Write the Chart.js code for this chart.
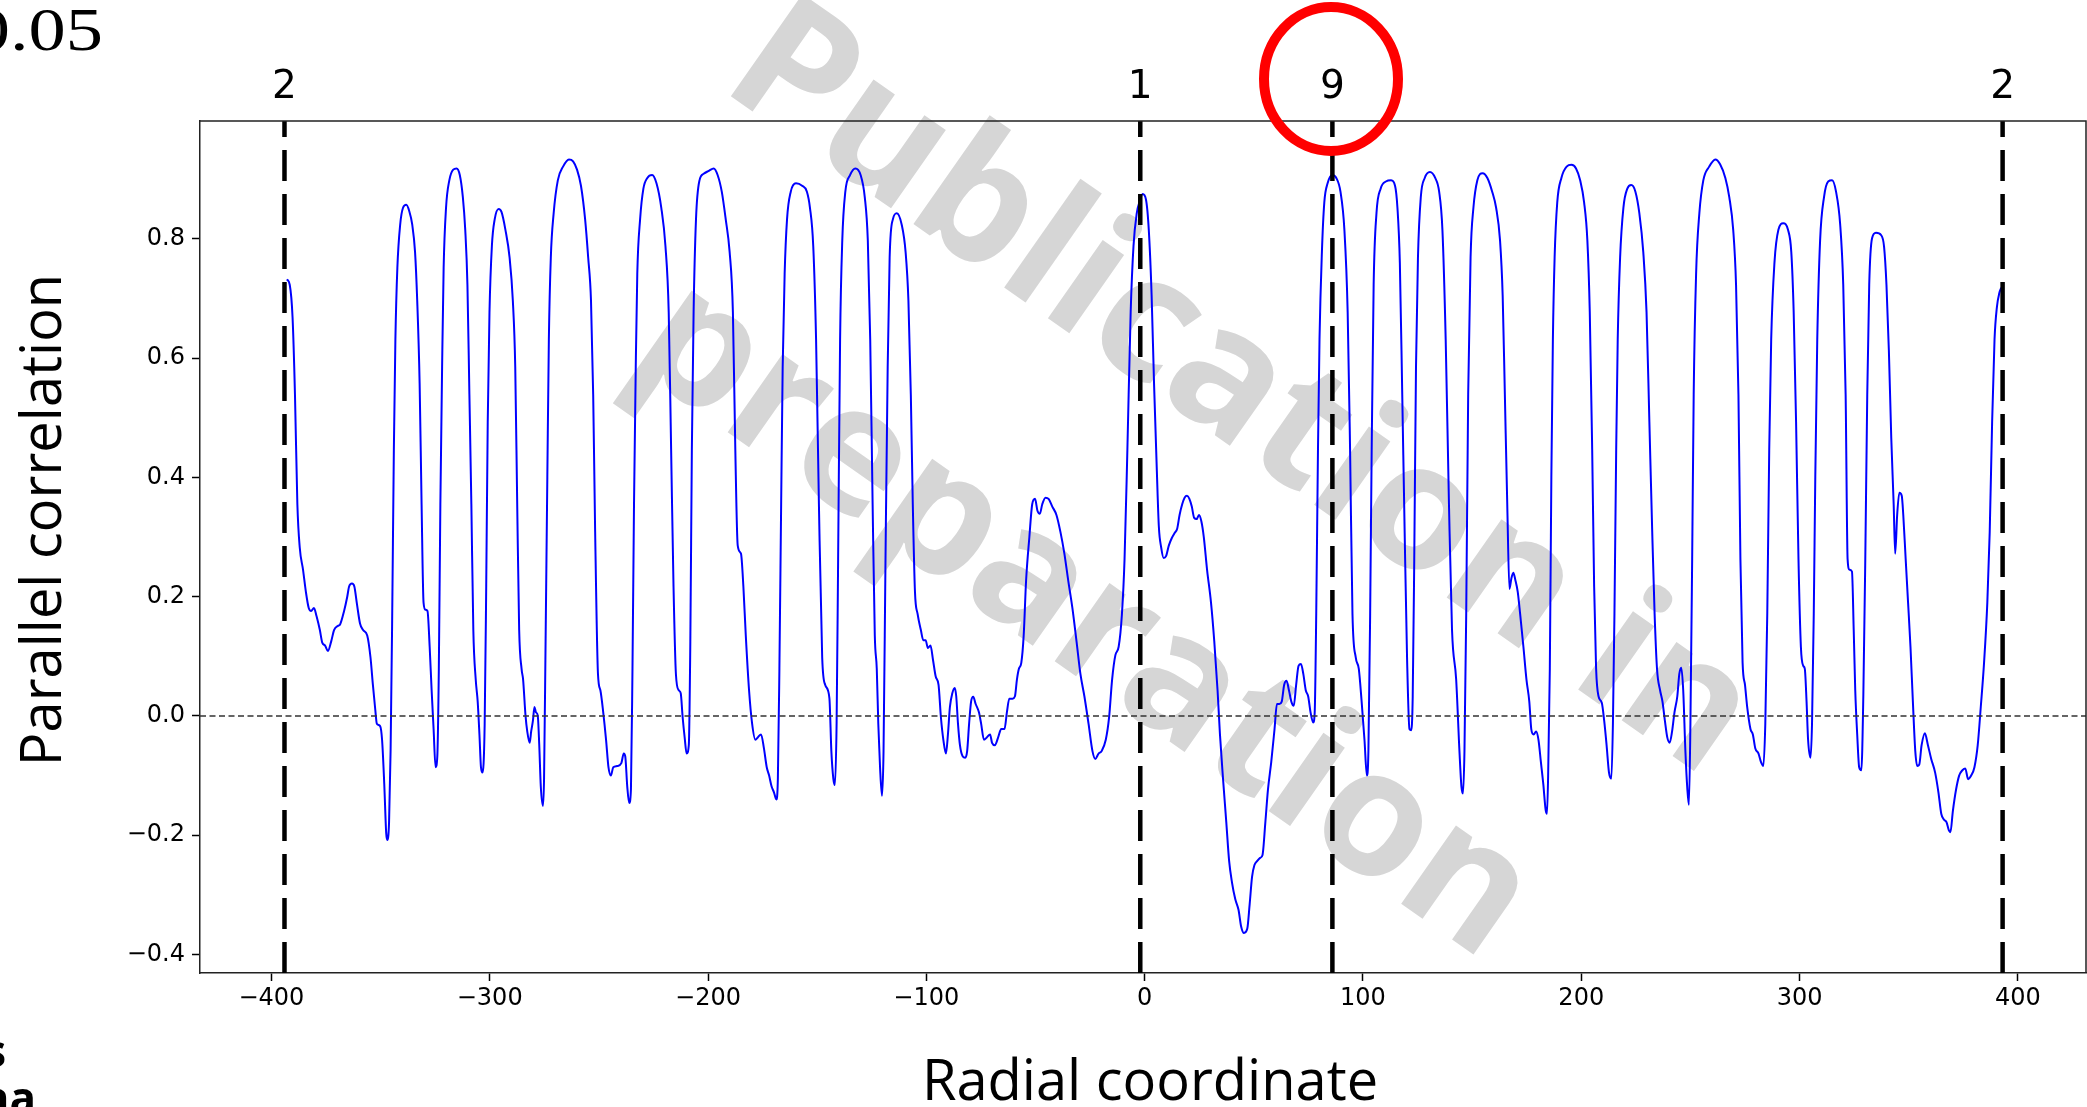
<!DOCTYPE html>
<html>
<head>
<meta charset="utf-8">
<title>Parallel correlation vs radial coordinate</title>
<script src="https://cdn.jsdelivr.net/npm/chart.js@4.4.1/dist/chart.umd.min.js"></script>
<style>
  html, body { margin: 0; padding: 0; background: #fff; overflow: hidden; }
  canvas { display: block; }
</style>
</head>
<body>
<canvas id="corrChart" width="2087" height="1107"></canvas>
<script>
// radial coordinate (x) and parallel correlation (y) along the profile
const radialCoord = [
  -392.9, -391.6, -390.3, -389.2, -388.1, -387.0, -385.5, -384.2, -382.9, -381.8,
  -380.5, -379.3, -377.8, -376.7, -375.4, -374.1, -372.6, -371.3, -369.5, -368.6,
  -366.7, -365.3, -364.4, -363.1, -362.0, -360.9, -359.4, -358.0, -356.1, -354.6,
  -353.5, -352.4, -351.7, -350.2, -349.3, -348.3, -347.4, -346.9, -346.1, -345.4,
  -344.7, -343.9, -343.2, -342.3, -341.0, -339.7, -338.2, -336.9, -335.5, -334.2,
  -333.2, -332.1, -331.2, -330.3, -329.4, -328.5, -327.5, -326.6, -325.7, -324.8,
  -324.0, -323.3, -322.6, -321.8, -321.1, -320.0, -318.5, -316.7, -315.2, -313.7,
  -312.3, -311.2, -310.2, -309.3, -308.4, -307.5, -306.4, -305.5, -304.7, -304.0,
  -303.3, -302.3, -301.6, -300.9, -300.1, -299.0, -297.7, -295.9, -294.6, -292.8,
  -290.9, -289.4, -288.3, -287.4, -286.5, -285.4, -284.7, -283.6, -282.8, -281.7,
  -281.0, -280.2, -279.5, -278.8, -278.0, -277.3, -276.6, -275.6, -275.1, -274.4,
  -273.6, -272.9, -272.0, -270.7, -268.8, -266.4, -263.7, -261.8, -260.0, -258.2,
  -256.3, -254.9, -253.6, -252.6, -251.7, -250.4, -249.3, -248.0, -246.7, -245.6,
  -244.5, -243.4, -241.6, -239.7, -238.6, -237.9, -237.0, -236.1, -235.3, -234.6,
  -233.9, -233.1, -232.4, -231.1, -229.6, -227.8, -225.6, -223.6, -221.4, -219.5,
  -218.0, -216.9, -215.8, -214.7, -213.4, -212.5, -211.6, -210.7, -209.8, -208.8,
  -208.1, -207.4, -206.6, -205.5, -203.9, -202.0, -199.6, -197.4, -195.6, -193.7,
  -191.9, -190.1, -188.6, -187.5, -186.4, -184.9, -183.8, -182.7, -181.2, -179.8,
  -178.3, -177.2, -175.7, -174.4, -173.1, -172.0, -170.9, -169.8, -168.7, -168.0,
  -167.3, -166.5, -165.8, -164.9, -163.8, -162.1, -159.7, -156.9, -154.7, -153.3,
  -151.8, -150.5, -149.2, -147.7, -146.3, -144.4, -143.5, -142.6, -141.9, -141.1,
  -140.4, -139.5, -138.5, -137.1, -134.9, -132.5, -130.1, -128.2, -126.8, -125.7,
  -124.6, -123.6, -122.7, -122.0, -121.2, -120.3, -119.6, -118.7, -117.7, -116.8,
  -115.3, -113.5, -111.3, -109.5, -108.2, -107.1, -106.2, -105.2, -104.0, -102.5,
  -101.4, -100.3, -99.3, -98.1, -96.9, -95.7, -94.4, -93.3, -92.2, -91.0,
  -90.1, -89.2, -88.1, -87.0, -86.3, -85.5, -84.6, -83.3, -82.2, -81.3,
  -80.4, -79.5, -78.5, -77.4, -75.9, -74.9, -73.6, -72.3, -70.8, -69.9,
  -68.6, -67.1, -65.7, -64.2, -63.1, -62.0, -60.5, -59.4, -58.5, -57.6,
  -56.5, -55.4, -54.3, -52.8, -51.5, -50.2, -49.1, -48.0, -46.9, -45.4,
  -44.0, -42.3, -40.4, -38.6, -36.8, -35.0, -33.1, -31.2, -29.4, -27.6,
  -25.7, -23.9, -22.6, -21.1, -19.7, -17.8, -16.3, -14.9, -13.4, -11.9,
  -10.4, -9.2, -7.9, -6.4, -5.1, -3.6, -2.4, -0.9, 0.6, 1.9,
  3.2, 4.3, 5.6, 6.5, 7.6, 8.7, 9.8, 11.1, 12.4, 13.8,
  14.9, 16.0, 17.2, 18.3, 19.4, 20.5, 21.6, 22.7, 23.8, 24.9,
  26.0, 27.1, 28.6, 30.4, 31.9, 33.4, 34.5, 35.9, 37.4, 38.7,
  40.0, 41.5, 43.0, 44.2, 45.5, 47.0, 48.1, 49.2, 50.3, 51.6,
  52.9, 54.0, 55.3, 56.5, 58.0, 59.5, 60.6, 61.7, 62.8, 63.9,
  65.0, 66.1, 67.2, 68.3, 69.4, 70.5, 71.6, 72.7, 73.8, 74.9,
  76.0, 77.2, 77.9, 78.6, 79.4, 80.1, 81.2, 82.3, 83.8, 86.0,
  87.8, 89.7, 91.5, 93.0, 94.1, 95.2, 96.7, 98.1, 99.4, 100.7,
  101.8, 102.5, 103.3, 104.0, 104.9, 106.2, 108.1, 110.5, 112.9, 114.7,
  115.8, 116.9, 118.0, 119.1, 120.2, 121.3, 122.1, 122.8, 123.5, 124.3,
  125.2, 126.5, 128.3, 130.7, 133.1, 134.9, 136.4, 137.9, 139.4, 140.8,
  142.7, 144.2, 145.1, 145.8, 146.5, 147.3, 148.2, 149.3, 150.6, 152.4,
  154.8, 157.0, 159.2, 161.0, 162.8, 164.0, 165.0, 166.1, 167.1, 168.0,
  168.9, 169.8, 170.9, 172.0, 173.5, 174.9, 176.2, 177.1, 178.2, 179.3,
  180.4, 181.5, 182.6, 183.7, 184.3, 184.8, 185.6, 186.3, 187.0, 187.8,
  189.0, 190.9, 193.3, 195.5, 197.6, 199.5, 201.3, 202.8, 203.9, 205.0,
  205.9, 206.8, 207.9, 209.4, 210.5, 211.6, 212.7, 213.8, 214.5, 215.2,
  216.0, 216.7, 217.8, 219.3, 221.1, 222.9, 224.8, 226.6, 228.4, 229.9,
  231.2, 232.5, 233.6, 234.7, 236.1, 237.2, 238.3, 239.4, 240.5, 241.6,
  242.7, 244.0, 244.9, 245.8, 246.7, 247.7, 248.6, 249.3, 250.0, 250.8,
  251.5, 252.6, 254.1, 255.9, 258.6, 261.4, 263.6, 266.0, 267.8, 269.6,
  270.9, 272.0, 272.9, 273.9, 275.0, 276.0, 277.5, 278.6, 279.7, 281.2,
  282.3, 283.4, 284.3, 285.2, 286.1, 287.0, 288.5, 290.3, 292.5, 294.7,
  296.2, 297.3, 298.4, 299.5, 300.6, 301.7, 302.4, 303.2, 303.9, 305.0,
  305.7, 306.5, 307.2, 308.1, 309.4, 311.2, 313.1, 314.9, 316.7, 318.6,
  320.0, 321.1, 322.0, 322.9, 324.0, 324.8, 325.5, 326.4, 327.3, 328.3,
  329.2, 330.1, 331.0, 331.9, 333.2, 335.0, 337.4, 338.7, 339.8, 340.9,
  342.0, 343.1, 343.8, 344.7, 345.7, 346.8, 347.5, 348.6, 349.7, 350.8,
  351.9, 353.0, 353.9, 354.8, 355.9, 357.4, 358.8, 360.3, 362.1, 363.6,
  364.9, 366.2, 367.3, 368.4, 369.1, 370.2, 371.7, 373.1, 374.6, 375.9,
  377.2, 378.6, 380.1, 381.6, 383.0, 384.5, 386.0, 387.1, 388.2, 389.3,
  390.4, 391.5, 392.4
];

const parallelCorr = [
  0.732, 0.723, 0.668, 0.539, 0.355, 0.282, 0.245, 0.208, 0.181, 0.176,
  0.181, 0.167, 0.144, 0.123, 0.118, 0.109, 0.125, 0.144, 0.151, 0.153,
  0.176, 0.199, 0.217, 0.222, 0.217, 0.190, 0.155, 0.144, 0.135, 0.098,
  0.052, 0.010, -0.013, -0.017, -0.040, -0.114, -0.197, -0.208, -0.178, -0.059,
  0.153, 0.447, 0.631, 0.751, 0.824, 0.852, 0.857, 0.847, 0.824, 0.778,
  0.696, 0.558, 0.355, 0.190, 0.178, 0.176, 0.116, 0.043, -0.022, -0.086,
  -0.068, 0.079, 0.355, 0.585, 0.751, 0.852, 0.898, 0.916, 0.918, 0.907,
  0.870, 0.815, 0.723, 0.539, 0.355, 0.144, 0.061, 0.024, -0.031, -0.086,
  -0.095, -0.013, 0.217, 0.493, 0.677, 0.788, 0.833, 0.850, 0.845, 0.815,
  0.769, 0.696, 0.585, 0.355, 0.144, 0.079, 0.061, 0.001, -0.026, -0.045,
  -0.026, -0.008, 0.015, 0.006, 0.001, -0.049, -0.118, -0.151, -0.105, 0.125,
  0.401, 0.631, 0.769, 0.843, 0.898, 0.921, 0.933, 0.930, 0.916, 0.889,
  0.833, 0.769, 0.696, 0.539, 0.309, 0.070, 0.043, 0.006, -0.040, -0.086,
  -0.100, -0.086, -0.084, -0.079, -0.063, -0.068, -0.118, -0.146, -0.123, 0.079,
  0.355, 0.585, 0.741, 0.833, 0.884, 0.902, 0.907, 0.893, 0.852, 0.788,
  0.677, 0.447, 0.217, 0.070, 0.043, 0.038, -0.003, -0.036, -0.063, -0.049,
  0.125, 0.447, 0.677, 0.833, 0.898, 0.909, 0.914, 0.918, 0.907, 0.879,
  0.833, 0.778, 0.677, 0.447, 0.286, 0.272, 0.217, 0.135, 0.043, -0.013,
  -0.040, -0.036, -0.031, -0.054, -0.086, -0.100, -0.118, -0.128, -0.140, -0.105,
  0.079, 0.355, 0.585, 0.741, 0.833, 0.879, 0.893, 0.889, 0.879, 0.852,
  0.788, 0.631, 0.355, 0.098, 0.052, 0.030, -0.059, -0.105, -0.116, -0.013,
  0.263, 0.631, 0.797, 0.879, 0.907, 0.918, 0.907, 0.870, 0.797, 0.631,
  0.355, 0.135, 0.079, -0.013, -0.086, -0.134, -0.059, 0.263, 0.585, 0.769,
  0.833, 0.843, 0.824, 0.778, 0.696, 0.539, 0.355, 0.208, 0.171, 0.144,
  0.127, 0.127, 0.114, 0.118, 0.093, 0.066, 0.052, -0.003, -0.040, -0.063,
  -0.031, 0.015, 0.038, 0.047, 0.033, -0.013, -0.049, -0.068, -0.070, -0.059,
  -0.013, 0.024, 0.032, 0.020, 0.006, -0.013, -0.040, -0.036, -0.031, -0.045,
  -0.049, -0.036, -0.022, -0.022, 0.006, 0.029, 0.029, 0.033, 0.061, 0.079,
  0.089, 0.135, 0.227, 0.300, 0.355, 0.364, 0.344, 0.339, 0.355, 0.366,
  0.364, 0.351, 0.337, 0.309, 0.273, 0.227, 0.181, 0.125, 0.070, 0.033,
  -0.013, -0.059, -0.072, -0.063, -0.059, -0.040, -0.003, 0.061, 0.102, 0.116,
  0.171, 0.263, 0.447, 0.677, 0.788, 0.843, 0.861, 0.875, 0.866, 0.815,
  0.705, 0.558, 0.410, 0.318, 0.282, 0.265, 0.268, 0.286, 0.298, 0.307,
  0.314, 0.337, 0.355, 0.366, 0.369, 0.364, 0.351, 0.332, 0.330, 0.337,
  0.326, 0.300, 0.245, 0.190, 0.125, 0.043, -0.031, -0.105, -0.178, -0.243,
  -0.279, -0.307, -0.325, -0.353, -0.364, -0.357, -0.316, -0.270, -0.250, -0.243,
  -0.238, -0.233, -0.178, -0.123, -0.077, -0.022, 0.020, 0.020, 0.024, 0.052,
  0.059, 0.043, 0.024, 0.017, 0.052, 0.084, 0.087, 0.070, 0.043, 0.033,
  0.006, -0.011, 0.006, 0.171, 0.447, 0.631, 0.778, 0.861, 0.893, 0.907,
  0.902, 0.879, 0.815, 0.677, 0.447, 0.171, 0.098, 0.079, 0.024, -0.040,
  -0.100, -0.059, 0.171, 0.447, 0.723, 0.843, 0.884, 0.896, 0.898, 0.889,
  0.852, 0.760, 0.539, 0.309, 0.098, -0.022, -0.024, 0.033, 0.263, 0.585,
  0.769, 0.870, 0.902, 0.912, 0.902, 0.879, 0.815, 0.631, 0.355, 0.144,
  0.061, -0.059, -0.118, -0.130, -0.059, 0.171, 0.539, 0.769, 0.852, 0.898,
  0.910, 0.902, 0.879, 0.852, 0.797, 0.705, 0.539, 0.355, 0.213, 0.231,
  0.240, 0.228, 0.208, 0.171, 0.116, 0.061, 0.024, -0.022, -0.031, -0.026,
  -0.040, -0.077, -0.114, -0.158, -0.164, -0.105, 0.079, 0.401, 0.631, 0.769,
  0.861, 0.902, 0.921, 0.924, 0.918, 0.898, 0.861, 0.797, 0.677, 0.447,
  0.217, 0.079, 0.033, 0.022, -0.008, -0.049, -0.095, -0.105, -0.013, 0.171,
  0.447, 0.631, 0.769, 0.852, 0.884, 0.890, 0.879, 0.843, 0.778, 0.677,
  0.493, 0.309, 0.171, 0.079, 0.043, 0.024, -0.008, -0.036, -0.045, -0.026,
  0.006, 0.033, 0.070, 0.081, 0.043, -0.059, -0.123, -0.149, -0.013, 0.263,
  0.539, 0.741, 0.843, 0.898, 0.921, 0.933, 0.925, 0.902, 0.870, 0.815,
  0.723, 0.539, 0.263, 0.089, 0.052, 0.015, -0.022, -0.031, -0.054, -0.063,
  -0.077, -0.084, -0.013, 0.171, 0.447, 0.631, 0.760, 0.815, 0.826, 0.815,
  0.778, 0.677, 0.493, 0.263, 0.116, 0.084, 0.079, 0.024, -0.040, -0.070,
  -0.013, 0.171, 0.401, 0.631, 0.797, 0.870, 0.896, 0.898, 0.879, 0.824,
  0.723, 0.539, 0.263, 0.245, 0.242, 0.144, 0.043, -0.031, -0.086, -0.091,
  0.033, 0.263, 0.539, 0.723, 0.801, 0.810, 0.806, 0.787, 0.723, 0.613,
  0.466, 0.355, 0.272, 0.337, 0.374, 0.369, 0.337, 0.263, 0.190, 0.116,
  0.024, -0.059, -0.084, -0.082, -0.049, -0.029, -0.049, -0.072, -0.095, -0.128,
  -0.164, -0.174, -0.178, -0.192, -0.195, -0.160, -0.123, -0.100, -0.091, -0.088,
  -0.106, -0.100, -0.086, -0.049, 0.015, 0.089, 0.190, 0.309, 0.493, 0.631,
  0.686, 0.709, 0.718
];

// dashed boundary markers and the labels printed above them
const boundaryPos = [-394, -2, 86, 393];
const boundaryLabels = ['2', '1', '9', '2'];

// axis ticks and view limits
const xTickValues = [-400, -300, -200, -100, 0, 100, 200, 300, 400];
const yTickValues = [-0.4, -0.2, 0.0, 0.2, 0.4, 0.6, 0.8];
const xLimits = [-432.7, 431.2];
const yLimits = [-0.431, 0.9975];

const minusSign = (s) => s.replace('-', '\u2212');

const curvePoints = radialCoord.map((r, i) => ({ x: r, y: parallelCorr[i] }));

const boundarySets = boundaryPos.map((p) => ({
  data: [{ x: p, y: yLimits[0] }, { x: p, y: yLimits[1] }],
  borderColor: '#000',
  borderWidth: 4.5,
  borderDash: [31, 13],
  pointRadius: 0,
  order: 0
}));

// white page, watermark behind the plot, then the slide annotations on top
const slideOverlay = {
  id: 'slideOverlay',
  beforeDraw(chart) {
    const ctx = chart.ctx;
    ctx.save();
    ctx.fillStyle = '#fff';
    ctx.fillRect(0, 0, chart.width, chart.height);

    ctx.fillStyle = '#d6d6d6';
    ctx.font = 'bold 175px "Open Sans"';
    ctx.textAlign = 'center';
    ctx.textBaseline = 'middle';
    ctx.translate(1240, 392);
    ctx.rotate(35 * Math.PI / 180);
    ctx.fillText('Publication in', 0, 0);
    ctx.fillText('preparation', 3, 277);
    ctx.restore();
  },
  afterDraw(chart) {
    const { ctx, chartArea: area, scales } = chart;
    ctx.save();

    // top and right frame lines
    ctx.strokeStyle = '#222';
    ctx.lineWidth = 1.5;
    ctx.beginPath();
    ctx.moveTo(area.left, area.top);
    ctx.lineTo(area.right, area.top);
    ctx.lineTo(area.right, area.bottom);
    ctx.stroke();

    // labels above the boundary lines
    ctx.fillStyle = '#000';
    ctx.font = '39px "DejaVu Sans"';
    ctx.textAlign = 'center';
    ctx.textBaseline = 'alphabetic';
    boundaryPos.forEach((p, i) => {
      ctx.fillText(boundaryLabels[i], scales.x.getPixelForValue(p), 98);
    });

    // axis titles
    ctx.font = '56px "Open Sans"';
    ctx.fillText('Radial coordinate', 1150, 1100);
    ctx.save();
    ctx.translate(61, 520);
    ctx.rotate(-Math.PI / 2);
    ctx.fillText('Parallel correlation', 0, 0);
    ctx.restore();

    // highlight ring round the "9" marker
    ctx.strokeStyle = '#ff0000';
    ctx.lineWidth = 10;
    ctx.beginPath();
    ctx.ellipse(1331, 79, 67, 72, 0, 0, 2 * Math.PI);
    ctx.stroke();

    // neighbouring slide text
    ctx.save();
    ctx.font = '62px "Liberation Serif"';
    ctx.textAlign = 'right';
    ctx.translate(103, 50);
    ctx.scale(1.2, 1);
    ctx.fillText('0.05', 0, 0);
    ctx.restore();

    ctx.font = 'bold 44px "Open Sans"';
    ctx.textAlign = 'right';
    ctx.fillText('s', 6, 1067);
    ctx.fillText('na', 36, 1114);

    ctx.restore();
  }
};

new Chart(document.getElementById('corrChart'), {
  type: 'line',
  data: {
    datasets: [
      ...boundarySets,
      {
        data: [{ x: xLimits[0], y: 0 }, { x: xLimits[1], y: 0 }],
        borderColor: '#333',
        borderWidth: 1.5,
        borderDash: [6, 3.5],
        pointRadius: 0,
        order: 1
      },
      {
        data: curvePoints,
        borderColor: '#0000ff',
        borderWidth: 2,
        pointRadius: 0,
        cubicInterpolationMode: 'monotone',
        order: 2
      }
    ]
  },
  options: {
    responsive: false,
    devicePixelRatio: 1,
    animation: false,
    layout: { padding: { top: 121, right: 1, left: 0, bottom: 0 } },
    plugins: { legend: { display: false }, tooltip: { enabled: false } },
    scales: {
      x: {
        type: 'linear',
        min: xLimits[0],
        max: xLimits[1],
        afterFit: (s) => { s.height = 134; },
        afterBuildTicks: (s) => { s.ticks = xTickValues.map((v) => ({ value: v })); },
        grid: { drawOnChartArea: false, tickLength: 8, tickColor: '#000', tickWidth: 1.5 },
        border: { color: '#222', width: 1.5 },
        ticks: {
          color: '#000',
          padding: 3,
          maxRotation: 0,
          autoSkip: false,
          font: { family: 'DejaVu Sans', size: 24 },
          callback: (v) => minusSign(String(v))
        }
      },
      y: {
        type: 'linear',
        min: yLimits[0],
        max: yLimits[1],
        afterFit: (s) => { s.width = 200; },
        afterBuildTicks: (s) => { s.ticks = yTickValues.map((v) => ({ value: v })); },
        grid: { drawOnChartArea: false, tickLength: 8, tickColor: '#000', tickWidth: 1.5 },
        border: { color: '#222', width: 1.5 },
        ticks: {
          color: '#000',
          padding: 7,
          autoSkip: false,
          font: { family: 'DejaVu Sans', size: 24 },
          callback: (v) => minusSign(v.toFixed(1))
        }
      }
    }
  },
  plugins: [slideOverlay]
});
</script>
</body>
</html>
